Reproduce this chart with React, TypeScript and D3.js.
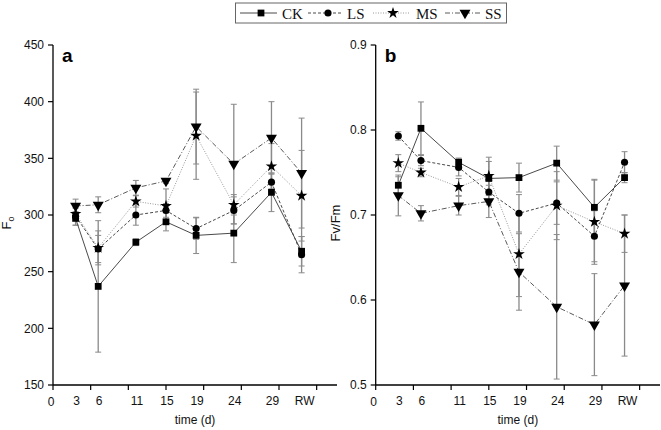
import React from "react";
import * as d3 from "d3";

const days = [3, 6, 11, 15, 19, 24, 29, 33];
const xTickLabels = ["3", "6", "11", "15", "19", "24", "29", "RW"];
const seriesNames = ["CK", "LS", "MS", "SS"];

const f0CK = [297, 237, 276, 294, 282, 284, 320, 268];
const f0CKErr = [6, 58, 3, 8, 16, 26, 17, 13];
const f0LS = [299, 270, 300, 304, 288, 304, 329, 265];
const f0LSErr = [8, 12, 9, 6, 9.5, 12, 8, 16];
const f0MS = [301, 271, 312, 308, 370, 309, 343, 317];
const f0MSErr = [5, 15, 5, 15, 38.5, 9, 20, 40];
const f0SS = [308, 309, 324, 330, 378, 345, 368, 337];
const f0SSErr = [6, 7, 6.5, 2, 33, 52.7, 32, 48.5];

const fvCK = [0.735, 0.802, 0.762, 0.743, 0.744, 0.761, 0.709, 0.744];
const fvCKErr = [0.01, 0.031, 0.005, 0.02, 0.017, 0.02, 0.032, 0.006];
const fvLS = [0.793, 0.764, 0.756, 0.727, 0.702, 0.714, 0.675, 0.762];
const fvLSErr = [0.005, 0.006, 0.01, 0.015, 0.022, 0.025, 0.03, 0.0125];
const fvMS = [0.761, 0.75, 0.733, 0.746, 0.654, 0.711, 0.692, 0.678];
const fvMSErr = [0.01, 0.005, 0.01, 0.022, 0.05, 0.04, 0.05, 0.022];
const fvSS = [0.723, 0.702, 0.711, 0.716, 0.633, 0.592, 0.571, 0.617];
const fvSSErr = [0.024, 0.009, 0.011, 0.019, 0.045, 0.085, 0.06, 0.083];

const f0Ticks = [150, 200, 250, 300, 350, 400, 450];
const fvTicks = [0.5, 0.6, 0.7, 0.8, 0.9];
const xMajorTicks = [0, 5, 10, 15, 20, 25, 30, 35];

const styles: Record<string, { dash: string; color: string; width: number; symbol: any; size: number; rot: number }> = {
  CK: { dash: "", color: "#4a4a4a", width: 1, symbol: d3.symbolSquare, size: 46, rot: 0 },
  LS: { dash: "3,2", color: "#4a4a4a", width: 1, symbol: d3.symbolCircle, size: 40, rot: 0 },
  MS: { dash: "1,1.5", color: "#9a9a9a", width: 1, symbol: d3.symbolStar, size: 42, rot: 0 },
  SS: { dash: "5,2,1,2", color: "#5a5a5a", width: 1, symbol: d3.symbolTriangle, size: 52, rot: 180 },
};

const FONT = "'Liberation Sans', Arial, sans-serif";

type Panel = {
  key: string;
  x0: number;
  x1: number;
  domainY: [number, number];
  ticks: number[];
  fmt: (v: number) => string;
  series: { name: string; vals: number[]; err: number[] }[];
  letter: string;
  ylabel: string;
  ylabelX: number;
};

const panels: Panel[] = [
  {
    key: "a",
    x0: 53,
    x1: 337,
    domainY: [150, 450],
    ticks: f0Ticks,
    fmt: (v) => String(v),
    series: [
      { name: "CK", vals: f0CK, err: f0CKErr },
      { name: "LS", vals: f0LS, err: f0LSErr },
      { name: "MS", vals: f0MS, err: f0MSErr },
      { name: "SS", vals: f0SS, err: f0SSErr },
    ],
    letter: "a",
    ylabel: "F0",
    ylabelX: 11,
  },
  {
    key: "b",
    x0: 375.7,
    x1: 660,
    domainY: [0.5, 0.9],
    ticks: fvTicks,
    fmt: (v) => v.toFixed(1),
    series: [
      { name: "CK", vals: fvCK, err: fvCKErr },
      { name: "LS", vals: fvLS, err: fvLSErr },
      { name: "MS", vals: fvMS, err: fvMSErr },
      { name: "SS", vals: fvSS, err: fvSSErr },
    ],
    letter: "b",
    ylabel: "Fv/Fm",
    ylabelX: 340,
  },
];

const Y_TOP = 45;
const Y_BOT = 385;

function PanelView({ p }: { p: Panel }) {
  const x = d3.scaleLinear().domain([0, 37.7]).range([p.x0, p.x1]);
  const y = d3.scaleLinear().domain(p.domainY).range([Y_BOT, Y_TOP]);
  const line = d3
    .line<number>()
    .x((_, i) => x(days[i]))
    .y((v) => y(v));
  const errColor = "#8a8a8a";
  return (
    <g>
      {/* error bars */}
      {p.series.map((s) =>
        s.vals.map((v, i) => {
          const cx = x(days[i]);
          const yt = y(v + s.err[i]);
          const yb = y(v - s.err[i]);
          return (
            <g key={s.name + "e" + i} stroke={errColor} strokeWidth={1.3}>
              <line x1={cx} x2={cx} y1={yt} y2={yb} />
              <line x1={cx - 3} x2={cx + 3} y1={yt} y2={yt} strokeWidth={1} />
              <line x1={cx - 3} x2={cx + 3} y1={yb} y2={yb} strokeWidth={1} />
            </g>
          );
        })
      )}
      {/* lines */}
      {p.series.map((s) => {
        const st = styles[s.name];
        return (
          <path
            key={s.name + "l"}
            d={line(s.vals) || ""}
            fill="none"
            stroke={st.color}
            strokeWidth={st.width}
            strokeDasharray={st.dash}
          />
        );
      })}
      {/* markers */}
      {p.series.map((s) => {
        const st = styles[s.name];
        const sym = d3.symbol().type(st.symbol).size(st.size)();
        return s.vals.map((v, i) => (
          <path
            key={s.name + "m" + i}
            d={sym || ""}
            transform={`translate(${x(days[i])},${y(v)}) rotate(${st.rot})`}
            fill="#000"
          />
        ));
      })}
      {/* axes */}
      <line x1={p.x0} x2={p.x0} y1={Y_TOP} y2={Y_BOT} stroke="#000" strokeWidth={1.3} />
      <line x1={p.x0} x2={p.x1} y1={Y_BOT} y2={Y_BOT} stroke="#000" strokeWidth={1.3} />
      {p.ticks.map((t) => (
        <g key={"yt" + t}>
          <line x1={p.x0 - 5} x2={p.x0} y1={y(t)} y2={y(t)} stroke="#000" strokeWidth={1.2} />
          <text
            x={p.x0 - 9}
            y={y(t)}
            dy="0.36em"
            textAnchor="end"
            fontFamily={FONT}
            fontSize={12}
            fill="#111"
          >
            {p.fmt(t)}
          </text>
        </g>
      ))}
      {xMajorTicks.map((t) => (
        <line key={"xt" + t} x1={x(t)} x2={x(t)} y1={Y_BOT} y2={Y_BOT + 5} stroke="#000" strokeWidth={1.2} />
      ))}
      <text x={x(0) - 2} y={406} textAnchor="middle" fontFamily={FONT} fontSize={12} fill="#111">
        0
      </text>
      {xTickLabels.map((lab, i) => (
        <text
          key={"xl" + i}
          x={x(days[i]) + (lab === "RW" ? 3 : 1)}
          y={405}
          textAnchor="middle"
          fontFamily={FONT}
          fontSize={12}
          fill="#111"
        >
          {lab}
        </text>
      ))}
      <text
        x={(p.x0 + p.x1) / 2}
        y={424}
        textAnchor="middle"
        fontFamily={FONT}
        fontSize={12}
        fill="#111"
      >
        time (d)
      </text>
      <text
        x={p.x0 + 9}
        y={61.5}
        fontFamily={FONT}
        fontSize={19}
        fontWeight="bold"
        fill="#000"
      >
        {p.letter}
      </text>
      <text
        transform={`translate(${p.ylabelX},223) rotate(-90)`}
        textAnchor="middle"
        fontFamily={FONT}
        fontSize={13}
        fill="#111"
      >
        {p.ylabel === "F0" ? (
          <>
            F
            <tspan fontSize={9} dy={3}>
              o
            </tspan>
          </>
        ) : (
          p.ylabel
        )}
      </text>
    </g>
  );
}

function Legend() {
  const entries = [
    { name: "CK", l0: 240, l1: 277, mx: 261, tx: 282 },
    { name: "LS", l0: 308, l1: 343, mx: 328, tx: 347 },
    { name: "MS", l0: 373, l1: 410, mx: 393, tx: 416 },
    { name: "SS", l0: 445, l1: 482, mx: 465, tx: 485 },
  ];
  const ly = 13;
  return (
    <g>
      <rect x={235.5} y={3} width={271} height={20} fill="#fff" stroke="#666" strokeWidth={1} />
      {entries.map((e, i) => {
        const st = styles[seriesNames[i]];
        const sym = d3.symbol().type(st.symbol).size(st.size)();
        return (
          <g key={e.name}>
            <line
              x1={e.l0}
              x2={e.l1}
              y1={ly}
              y2={ly}
              stroke={st.color}
              strokeWidth={st.width}
              strokeDasharray={st.dash}
            />
            <path d={sym || ""} transform={`translate(${e.mx},${ly}) rotate(${st.rot})`} fill="#000" />
            <text x={e.tx} y={18.5} fontFamily="'Liberation Serif', 'Times New Roman', serif" fontSize={15} fill="#111">
              {seriesNames[i]}
            </text>
          </g>
        );
      })}
    </g>
  );
}

export default function App() {
  return (
    <svg
      width={661}
      height={430}
      viewBox="0 0 661 430"
      style={{ position: "absolute", left: 0, top: 0, background: "#fff" }}
    >
      <rect width={661} height={430} fill="#fff" />
      {panels.map((p) => (
        <PanelView key={p.key} p={p} />
      ))}
      <Legend />
    </svg>
  );
}
